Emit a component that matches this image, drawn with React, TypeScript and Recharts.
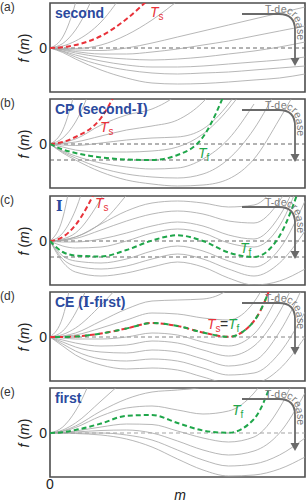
import React from 'react';
import { LineChart, Line, XAxis, YAxis, ReferenceLine, ReferenceArea } from 'recharts';

type Curve = (number | null)[];
const _ = null;

// sample positions along m (axis runs 0..5, ticks at 1..4)
const M = [0, 0.25, 0.5, 1, 1.5, 2, 2.5, 3, 3.5, 4, 4.5, 5];
const X_TICKS = [1, 2, 3, 4];
const PANEL_TOPS = [3, 99, 196, 292, 388];
const PANEL_TAGS = ['(a)', '(b)', '(c)', '(d)', '(e)'];

// (a) second
const aTs: Curve = [0, 0.8, 3, 12, 29, 52, _, _, _, _, _, _];
const aG1: Curve = [0, 11, 45, 180, _, _, _, _, _, _, _, _];
const aG2: Curve = [0, 4.5, 18, 70, _, _, _, _, _, _, _, _];
const aG3: Curve = [0, 2, 7, 26, 60, _, _, _, _, _, _, _];
const aG4: Curve = [0, -0.3, -0.5, 3, 13, 28, 47, _, _, _, _, _];
const aG5: Curve = [0, -1, -2, -2.5, 0, 5, 11, 17, 23, 29, 35, 41];
const aG6: Curve = [0, -1.5, -3.5, -6, -6, -4, -1, 3, 7, 12, 17, 22];
const aG7: Curve = [0, -2, -5, -9, -11, -12, -11, -9, -6, -3, 1, 6];
const aG8: Curve = [0, -3, -7, -13, -17, -19, -19, -18, -16, -14, -12, -9];
const aG9: Curve = [0, -3.5, -9, -17, -22, -25, -26, -25, -24, -22, -20, -18];
const aG10: Curve = [0, -4.5, -11, -22, -30, -35, -36, -35.5, -34, -32, -30, -26];

// (b) CP (second-I)
const bTs: Curve = [0, 2, 7, 26, 75, _, _, _, _, _, _, _];
const bTf: Curve = [0, -5.5, -9, -13.4, -15.5, -16, -11, 7, 60, _, _, _];
const bG1: Curve = [0, 14, 55, _, _, _, _, _, _, _, _, _];
const bG2: Curve = [0, 6, 22, 85, _, _, _, _, _, _, _, _];
const bG3: Curve = [0, 1.5, 5, 19, 29, 35, 50, 80, _, _, _, _];
const bG4: Curve = [0, 0.5, 2, 8, 14, 18, 24, 42, 75, _, _, _];
const bG5: Curve = [0, -1, -1.5, 1, 4, 6, 7, 15, 40, 80, _, _];
const bG6: Curve = [0, -3, -6, -8, -8, -7, -3, 10, 35, 70, _, _];
const bG7: Curve = [0, -7, -12, -19, -23, -25, -24, -15, 5, 40, _, _];
const bG8: Curve = [0, -8, -14, -24, -30, -33, -34, -30, -15, 15, 60, _];
const bG9: Curve = [0, -9, -16, -28, -36, -40, -42, -41, -35, -15, 25, 70];

// (c) I
const cTs: Curve = [0, 4, 16, 62, _, _, _, _, _, _, _, _];
const cTf: Curve = [0, -11, -14.5, -15.5, -9, 0.5, 5.7, 0, -11.5, -16, 5, 70];
const cG1: Curve = [0, 23, 92, _, _, _, _, _, _, _, _, _];
const cG2: Curve = [0, 8, 31, 125, _, _, _, _, _, _, _, _];
const cG3: Curve = [0, 2, 8, 42, 90, _, _, _, _, _, _, _];
const cG4: Curve = [0, 1, 4, 18, 46, _, _, _, _, _, _, _];
const cG5: Curve = [0, 1, 4, 17, 30, 38, 40, 38, 34, 36, 60, _];
const cG6: Curve = [0, 0.5, 2.5, 11, 20, 27, 30, 27, 20, 18, 40, 90];
const cG7: Curve = [0, -1, -1, 2, 8, 15, 19, 15, 6, 2, 25, 80];
const cG8: Curve = [0, -5, -7, -6, 0, 8, 12, 8, -2, -6, 15, 75];
const cG9: Curve = [0, -15, -20, -22, -18, -10, -5, -10, -20, -26, -8, 40];
const cG10: Curve = [0, -18, -25, -28, -25, -18, -13, -18, -28, -35, -22, 10];
const cG11: Curve = [0, -21, -31, -35, -32, -26, -21, -26, -37, -44, -40, -28];

// (d) CE (I-first)
const dT: Curve = [0, 0, 0.5, 3.5, 8.5, 14, 11, 4.5, 0.2, 16, 75, _];
const dG1: Curve = [0, 20, 80, _, _, _, _, _, _, _, _, _];
const dG2: Curve = [0, 6, 24, 90, _, _, _, _, _, _, _, _];
const dG3: Curve = [0, 2.5, 9, 32, 60, _, _, _, _, _, _, _];
const dG4: Curve = [0, 1, 4, 16, 28, 36, 37, 38, 48, 80, _, _];
const dG5: Curve = [0, 0.5, 2, 9, 17, 24, 23, 19, 17, 35, 85, _];
const dG6: Curve = [0, -1, -2, -2, 0, 4, 2, -5, -9, 3, 45, _];
const dG7: Curve = [0, -3, -6, -9, -8, -4, -6, -13, -19, -9, 25, 80];
const dG8: Curve = [0, -5, -10, -15, -16, -13, -15, -22, -29, -24, 5, 55];
const dG9: Curve = [0, -7, -14, -22, -24, -22, -24, -31, -38, -36, -16, 25];
const dG10: Curve = [0, -9, -18, -28, -32, -31, -33, -40, -46, -46, -32, 0];

// (e) first
const eTf: Curve = [0, 0.8, 3, 9.5, 17.2, 18, 10, 2.5, 0.2, 14, 75, _];
const eG1: Curve = [0, 6, 22, 80, _, _, _, _, _, _, _, _];
const eG2: Curve = [0, 3, 10, 32, 55, _, _, _, _, _, _, _];
const eG3: Curve = [0, 2, 7, 22, 34, 41, 43, 46, 60, _, _, _];
const eG4: Curve = [0, 1.5, 5.5, 17, 25, 27, 23, 19, 22, 40, 80, _];
const eG5: Curve = [0, 0.5, 2, 6, 9, 8.5, 2, -5, -9, -4, 25, 80];
const eG6: Curve = [0, 0.2, 1, 2.5, 3, 0, -8, -17, -22, -18, 0, 40];
const eG7: Curve = [0, 0, 0, 0, -2, -7, -17, -27, -33, -31, -22, -5];
const eG8: Curve = [0, 0, -0.5, -2, -6, -14, -26, -37, -43, -42, -36, -24];

const RED = '#e8323a';
const GREEN = '#1fa64a';
const GRAY = '#a4a4a4';
const BLUE = '#2b4a9e';
const FONT = 'Arial, "Liberation Sans", sans-serif';

interface Colored {
  data: Curve;
  color: string;
  offset?: number;
}

interface PanelDef {
  gray: Curve[];
  colored: Colored[];
  refs: number[];
  zeroColor: string;
}

const PANELS: PanelDef[] = [
  {
    gray: [aG1, aG2, aG3, aG4, aG5, aG6, aG7, aG8, aG9, aG10],
    colored: [{ data: aTs, color: RED }],
    refs: [],
    zeroColor: '#555',
  },
  {
    gray: [bG1, bG2, bG3, bG4, bG5, bG6, bG7, bG8, bG9],
    colored: [{ data: bTs, color: RED }, { data: bTf, color: GREEN }],
    refs: [-16],
    zeroColor: '#555',
  },
  {
    gray: [cG1, cG2, cG3, cG4, cG5, cG6, cG7, cG8, cG9, cG10, cG11],
    colored: [{ data: cTs, color: RED }, { data: cTf, color: GREEN }],
    refs: [-16],
    zeroColor: '#555',
  },
  {
    gray: [dG1, dG2, dG3, dG4, dG5, dG6, dG7, dG8, dG9, dG10],
    colored: [{ data: dT, color: RED }, { data: dT, color: GREEN, offset: 5 }],
    refs: [],
    zeroColor: '#777',
  },
  {
    gray: [eG1, eG2, eG3, eG4, eG5, eG6, eG7, eG8],
    colored: [{ data: eTf, color: GREEN }],
    refs: [],
    zeroColor: '#999',
  },
];

function buildRows(curves: Curve[]) {
  return M.map((m, i) => {
    const row: Record<string, number | null> = { m };
    curves.forEach((c, k) => {
      row['k' + k] = c[i];
    });
    return row;
  });
}

const noTick = () => <g />;

function Panel({ def, top }: { def: PanelDef; top: number }) {
  const curves = [...def.gray, ...def.colored.map((c) => c.data)];
  const rows = buildRows(curves);
  const n = def.gray.length;
  return (
    <div style={{ position: 'absolute', left: 0, top: top - 10 }}>
      <LineChart width={306} height={124} data={rows} margin={{ top: 10, right: 1, bottom: 25, left: 0 }}>
        <XAxis
          dataKey="m"
          type="number"
          domain={[0, 5]}
          allowDataOverflow
          ticks={X_TICKS}
          mirror
          height={0}
          tickSize={4}
          axisLine={false}
          tickLine={{ stroke: '#555', strokeWidth: 1.2 }}
          tick={noTick}
        />
        <YAxis
          type="number"
          domain={[-44, 45]}
          allowDataOverflow
          ticks={[0]}
          width={50}
          axisLine={false}
          tickLine={false}
          tickSize={0}
          tickMargin={3}
          tick={{ fontSize: 14, fill: '#222', fontFamily: FONT }}
        />
        <ReferenceLine y={0} stroke={def.zeroColor} strokeDasharray="4 3" strokeWidth={0.9} />
        {def.refs.map((r) => (
          <ReferenceLine key={r} y={r} stroke="#555" strokeDasharray="4 3" strokeWidth={0.9} />
        ))}
        {def.gray.map((_c, k) => (
          <Line
            key={'g' + k}
            dataKey={'k' + k}
            type="monotone"
            stroke={GRAY}
            strokeWidth={0.8}
            dot={false}
            activeDot={false}
            isAnimationActive={false}
          />
        ))}
        {def.colored.map((c, k) => (
          <Line
            key={'c' + k}
            dataKey={'k' + (n + k)}
            type="monotone"
            stroke={c.color}
            strokeWidth={2}
            strokeDasharray={c.offset ? '5 5' : '5 3'}
            strokeDashoffset={c.offset || 0}
            dot={false}
            activeDot={false}
            isAnimationActive={false}
          />
        ))}
        <ReferenceArea x1={0} x2={5} y1={-44} y2={45} fill="none" stroke="#4d4d4d" strokeWidth={1.6} />
      </LineChart>
    </div>
  );
}

function TLabel({ x, y, sub, color }: { x: number; y: number; sub: string; color: string }) {
  return (
    <text x={x} y={y} fill={color} fontFamily={FONT}>
      <tspan fontStyle="italic" fontSize={14}>T</tspan>
      <tspan fontSize={10} dy={3}>{sub}</tspan>
    </text>
  );
}

function Arrow({ t }: { t: number }) {
  const id = 'tp' + t;
  return (
    <g>
      <path
        d={`M242,${t + 11} L279,${t + 11} Q295,${t + 11} 295,${t + 27} L295,${t + 56}`}
        stroke="#6a6a6a"
        strokeWidth={1.8}
        fill="none"
      />
      <polygon points={`290.5,${t + 55} 299.5,${t + 55} 295,${t + 63}`} fill="#6a6a6a" />
      <path id={id} d={`M265,${t + 9.5} L280,${t + 9.5} Q296.5,${t + 9.5} 296.5,${t + 27} L296.5,${t + 85}`} fill="none" />
      <text fontSize={10.5} fill="#7a7a7a" fontFamily={FONT}>
        <textPath href={'#' + id}>T-decrease</textPath>
      </text>
    </g>
  );
}

const TITLES = ['second', 'CP (second-', '', 'CE (', 'first'];

export default function App() {
  const T = PANEL_TOPS;
  return (
    <div style={{ position: 'absolute', left: 0, top: 0, width: 306, height: 504, background: '#fff', overflow: 'hidden' }}>
      {PANELS.map((p, i) => (
        <Panel key={i} def={p} top={T[i]} />
      ))}
      <svg width={306} height={504} style={{ position: 'absolute', left: 0, top: 0, pointerEvents: 'none' }}>
        {PANEL_TAGS.map((tag, i) => (
          <text key={tag} x={0} y={T[i] + 8} fontSize={12} fill="#333" fontFamily={FONT}>
            {tag}
          </text>
        ))}
        {T.map((t) => (
          <text
            key={'f' + t}
            transform={`translate(29,${t + 45}) rotate(-90)`}
            textAnchor="middle"
            fontSize={14}
            fill="#222"
            fontFamily={FONT}
          >
            <tspan fontStyle="italic">f</tspan>
            <tspan> (</tspan>
            <tspan fontStyle="italic">m</tspan>
            <tspan>)</tspan>
          </text>
        ))}
        <g fontFamily={FONT} fontWeight="bold" fontSize={14} fill={BLUE}>
          <text x={55} y={T[0] + 15}>{TITLES[0]}</text>
          <text x={55} y={T[1] + 15}>
            {TITLES[1]}
            <tspan fontFamily="'DejaVu Serif', serif">Ⅰ</tspan>)
          </text>
          <text x={56} y={T[2] + 15} fontFamily="'DejaVu Serif', serif">Ⅰ</text>
          <text x={55} y={T[3] + 15}>
            {TITLES[3]}
            <tspan fontFamily="'DejaVu Serif', serif">Ⅰ</tspan>-first)
          </text>
          <text x={55} y={T[4] + 15}>{TITLES[4]}</text>
        </g>
        <TLabel x={150} y={T[0] + 14} sub="s" color={RED} />
        <TLabel x={100} y={T[1] + 33} sub="s" color={RED} />
        <TLabel x={198} y={T[1] + 59} sub="f" color={GREEN} />
        <TLabel x={95} y={T[2] + 12} sub="s" color={RED} />
        <TLabel x={240} y={T[2] + 57} sub="f" color={GREEN} />
        <TLabel x={207} y={T[3] + 37} sub="s" color={RED} />
        <text x={220} y={T[3] + 37} fontSize={14} fill="#333" fontFamily={FONT}>=</text>
        <TLabel x={228} y={T[3] + 37} sub="f" color={GREEN} />
        <TLabel x={232} y={T[4] + 27} sub="f" color={GREEN} />
        {T.map((t) => (
          <Arrow key={'a' + t} t={t} />
        ))}
        <text x={50} y={489} textAnchor="middle" fontSize={14} fill="#222" fontFamily={FONT}>0</text>
        <text x={180} y={500} textAnchor="middle" fontSize={14} fontStyle="italic" fill="#222" fontFamily={FONT}>m</text>
      </svg>
    </div>
  );
}
